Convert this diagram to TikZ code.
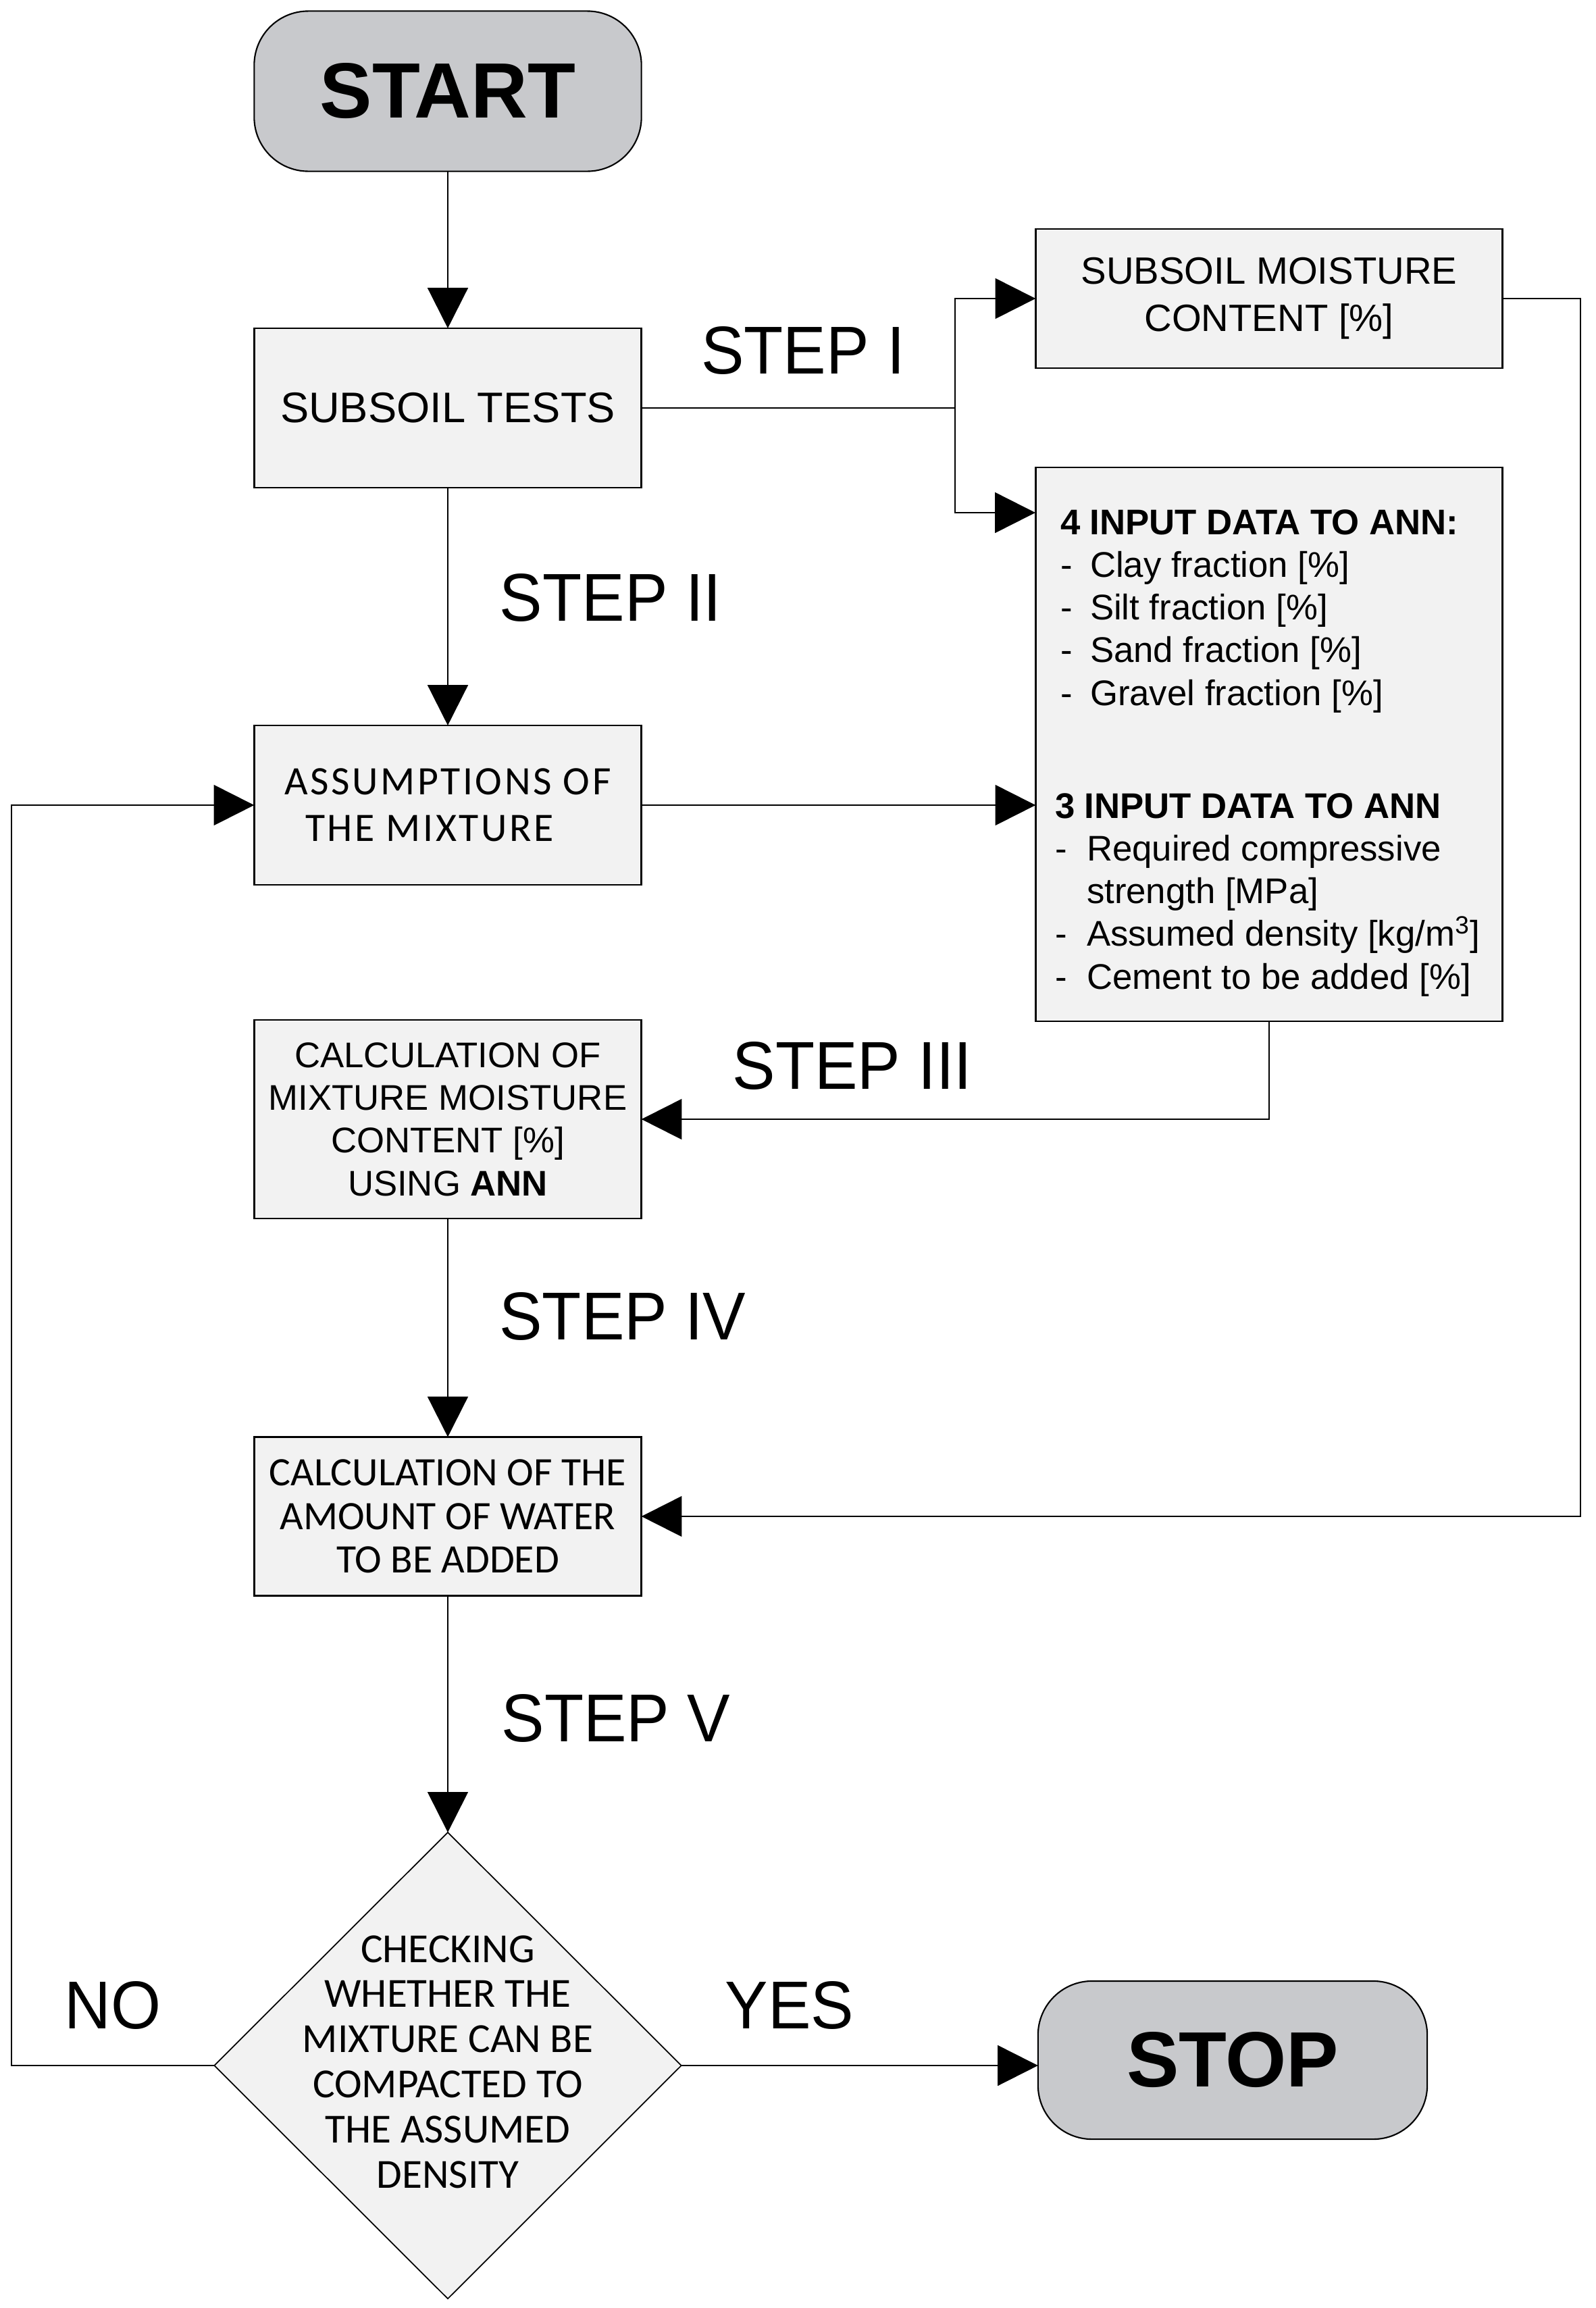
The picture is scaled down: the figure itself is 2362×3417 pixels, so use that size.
\documentclass[tikz,border=0pt]{standalone}
\usepackage{fontspec}
\setmainfont{Liberation Sans}
\newfontfamily\calibrifont{Carlito}
\usetikzlibrary{arrows.meta,shapes.geometric}
\definecolor{termgray}{RGB}{200,201,204}
\definecolor{boxgray}{RGB}{242,242,242}
\newcommand{\dashentry}[2][0.44cm]{\makebox[#1][l]{-}#2}
\begin{document}
\begin{tikzpicture}[x=0.01cm,y=-0.01cm,
  every node/.style={inner sep=0pt, outer sep=0pt},
  line/.style={line width=0.7pt, draw=black},
  arr/.style={line width=0.7pt, draw=black, -{Triangle[length=17pt,width=17pt]}},
  procbox/.style={draw=black, line width=0.7pt, fill=boxgray, rectangle, align=center},
  termbox/.style={draw=black, line width=0.6pt, fill=termgray, rectangle, rounded corners=0.8cm,
    font=\fontsize{33}{36}\selectfont\bfseries},
  steplabel/.style={anchor=base, font=\fontsize{28.5}{32}\selectfont\addfontfeature{FakeStretch=0.95}},
]
\useasboundingbox (0,0) rectangle (2362,3417);

% terminals
\node[termbox, minimum width=5.73cm, minimum height=2.37cm] (start) at (663,135) {START};
\node[termbox, minimum width=5.76cm, minimum height=2.34cm] (stop) at (1825,3050) {STOP};

% process boxes
\node[procbox, minimum width=5.73cm, minimum height=2.36cm, font=\fontsize{18}{22}\selectfont] (subsoil) at (663,604) {SUBSOIL TESTS};
\node[procbox, minimum width=6.91cm, minimum height=2.06cm, font=\fontsize{16}{20}\selectfont] (smc) at (1879,442) {SUBSOIL MOISTURE\\CONTENT [\%]};
\node[procbox, minimum width=6.91cm, minimum height=8.20cm] (input) at (1879,1102) {};
\node[procbox, minimum width=5.73cm, minimum height=2.36cm, font=\calibrifont\fontsize{17}{19.5}\selectfont\addfontfeature{LetterSpace=6}] (assump) at (663,1192) {ASSUMPTIONS OF\\THE MIXTURE\hspace*{0.54cm}};
\node[procbox, minimum width=5.73cm, minimum height=2.94cm, font=\fontsize{15}{18}\selectfont] (calcmix) at (663,1657) {CALCULATION OF\\MIXTURE MOISTURE\\CONTENT [\%]\\USING \textbf{ANN}};
\node[procbox, minimum width=5.73cm, minimum height=2.35cm, font=\calibrifont\fontsize{17}{18.4}\selectfont] (calcw) at (663,2245) {CALCULATION OF THE\\AMOUNT OF WATER\\TO BE ADDED};

% decision
\node[draw=black, line width=0.5pt, fill=boxgray, diamond, aspect=1, minimum width=6.91cm, minimum height=6.9cm] (dia) at (663,3058) {};
\node[anchor=base, font=\calibrifont\fontsize{17.4}{19}\selectfont] (diatext) at (663,2905)
  {\begin{tabular}[t]{@{}c@{}}CHECKING\\WHETHER THE\\MIXTURE CAN BE\\COMPACTED TO\\THE ASSUMED\\DENSITY\end{tabular}};

% input data texts
\node[anchor=base west, font=\fontsize{15}{18}\selectfont] (in4text) at (1570,791)
  {\begin{tabular}[t]{@{}l@{}}\textbf{4 INPUT DATA TO ANN:}\\
   \dashentry{Clay fraction [\%]}\\
   \dashentry{Silt fraction [\%]}\\
   \dashentry{Sand fraction [\%]}\\
   \dashentry{Gravel fraction [\%]}\end{tabular}};
\node[anchor=base west, font=\fontsize{15}{18}\selectfont] (in3text) at (1562,1211)
  {\begin{tabular}[t]{@{}l@{}}\textbf{3 INPUT DATA TO ANN}\\
   \dashentry[0.47cm]{Required compressive}\\
   \hspace*{0.47cm}strength [MPa]\\
   \dashentry[0.47cm]{Assumed density [kg/m\textsuperscript{3}]}\\
   \dashentry[0.47cm]{Cement to be added [\%]}\end{tabular}};

% step labels
\node[steplabel] (s1) at (1189,553) {STEP I};
\node[steplabel] (s2) at (904,919) {STEP II};
\node[steplabel] (s3) at (1262,1612) {STEP III};
\node[steplabel] (s4) at (922,1983) {STEP IV};
\node[steplabel] (s5) at (912,2578) {STEP V};
\node[steplabel] (no) at (167,3003) {NO};
\node[steplabel] (yes) at (1169,3003) {YES};

% helper coordinates
\coordinate (branch) at (1414,604);
\coordinate (in4pt) at (1533,759);
\coordinate (rloop) at (2340,442);
\coordinate (lloop) at (17,3058);

% connectors
\draw[arr] (start.south) -- (subsoil.north);
\draw[line] (subsoil.east) -- (branch);
\draw[arr] (branch) |- (smc.west);
\draw[arr] (branch) |- (in4pt);
\draw[arr] (subsoil.south) -- (assump.north);
\draw[arr] (assump.east) -- (assump.east -| input.west);
\draw[arr] (input.south) |- (calcmix.east);
\draw[arr] (smc.east) -- (rloop) |- (calcw.east);
\draw[arr] (calcmix.south) -- (calcw.north);
\draw[arr] (calcw.south) -- (dia.north);
\draw[arr] (dia.west) -- (lloop) |- (assump.west);
\draw[arr] (dia.east) -- (dia.east -| stop.west);
\end{tikzpicture}
\end{document}
